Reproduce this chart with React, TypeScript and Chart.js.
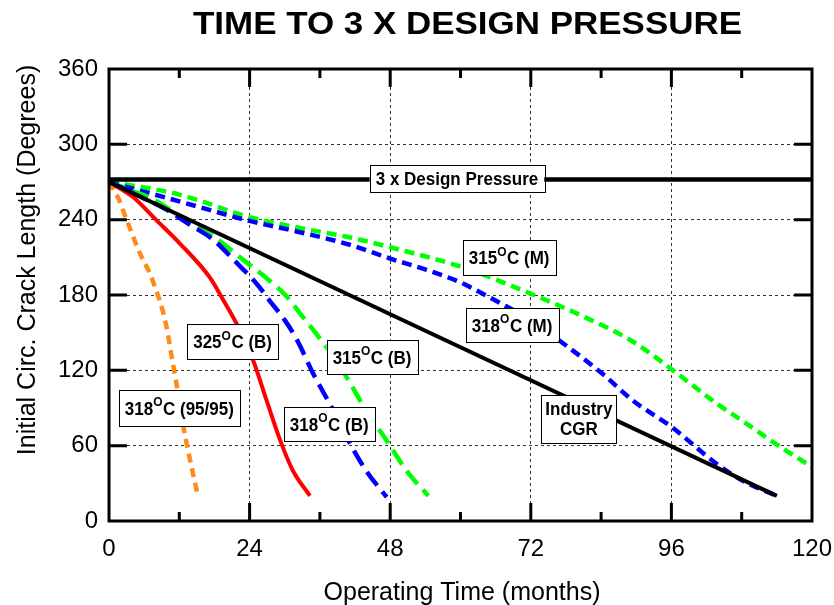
import React, { useEffect, useRef } from "react";
import { Chart, registerables } from "chart.js";

Chart.register(...registerables);

const FONT = '"Liberation Sans", Arial, Helvetica, sans-serif';

// ---- text ----
const chartTitle = "TIME TO 3 X DESIGN PRESSURE";
const xAxisTitle = "Operating Time (months)";
const yAxisTitle = "Initial Circ. Crack Length (Degrees)";

// ---- axes ----
const xMin = 0;
const xMax = 120;
const xStep = 24;
const xMinorTicks = [12, 36, 60, 84, 108];
const xMajorTicks = [24, 48, 72, 96];
const yMin = 0;
const yMax = 360;
const yStep = 60;
const yMajorTicks = [60, 120, 180, 240, 300];

// ---- series (months, degrees) ----
const designMonths = [0, 120];
const designLength = [272, 272];

const cgrMonths = [0, 114];
const cgrLength = [270, 20];

const m318_9595 = [0, 1.5, 3, 5.3, 7, 8.1, 8.7, 9.8, 10.7, 11.5, 12.7, 13.5, 15.2];
const v318_9595 = [270, 258, 240, 213, 197, 183, 175, 155, 131, 110, 75, 56, 19];

const m325B = [0, 4.1, 8, 12.1, 17.2, 19.5, 21.8, 24.6, 26.9, 29.4, 31.4, 34.3];
const v325B = [270, 258, 240, 221, 194, 176, 157, 128, 96, 62, 40, 20];

const m318B = [0, 2, 5, 9.8, 13.8, 17.8, 21.5, 25.2, 27.5, 30, 32, 34.9, 38.3, 41.1, 43.9, 47.4];
const v318B = [270, 266, 259, 248, 236, 224, 207, 189, 175, 160, 145, 117, 88, 62, 40, 19];

const m315B = [0, 4, 8, 13.8, 18, 22.9, 27, 30.3, 33, 35.4, 38, 40.5, 43.9, 47.4, 50.8, 54.5];
const v315B = [270, 263, 255, 237, 226, 208, 193, 179, 163, 149, 133, 115, 88, 64, 40, 20];

const m318M = [0, 3, 7, 15.5, 24, 32.6, 41.1, 48, 54.2, 60, 63.8, 67.8, 72, 76.8, 84.3, 89.4, 96, 103.6, 108.2, 114];
const v318M = [270, 266, 261, 250, 239, 230, 220, 209, 200, 190, 181, 171, 160, 144, 117, 96, 75, 46, 32, 20];

const m315M = [0, 3.6, 12, 24, 33, 41, 48, 60.4, 72, 80.9, 89.4, 96, 103.6, 109.3, 113.3, 120];
const v315M = [270, 267.5, 260, 242, 233, 226, 218, 202, 181, 163, 143, 121, 94, 76, 63, 43];

// ---- in-plot labels (text) ----
const labelBase = ["3 x Design Pressure", "315", "318", "Industry", "325", "315", "318", "318"];
const labelSup = ["", "O", "O", "", "O", "O", "O", "O"];
const labelTail = ["", "C (M)", "C (M)", "", "C (B)", "C (B)", "C (95/95)", "C (B)"];
const labelSecondLine = ["", "", "", "CGR", "", "", "", ""];

// label anchor positions (data coordinates: month, degrees) and box sizes
const labelAnchorMonth = [59.4, 68.3, 68.8, 80.2, 21.1, 44.9, 12.0, 37.6];
const labelAnchorValue = [272.5, 209.6, 155.9, 81, 142.6, 130.4, 89.8, 77];
const labelBoxHeight = [27, 35, 34, 48, 35, 34, 36, 34];

const pts = (xs: number[], ys: number[]) => xs.map((x, i) => ({ x, y: ys[i] }));

const tallText = (ctx: CanvasRenderingContext2D, text: string, x: number, y: number, sy: number) => {
  ctx.save();
  ctx.translate(x, y);
  ctx.scale(1, sy);
  ctx.fillText(text, 0, 0);
  ctx.restore();
};

const overlayPlugin = {
  id: "overlay",
  afterDatasetsDraw(chart: any) {
    const { ctx, chartArea: ca, scales } = chart;
    const xs = scales.x;
    const ys = scales.y;
    ctx.save();

    // labels
    const labelFont = `bold 17px ${FONT}`;
    const supFont = `bold 12px ${FONT}`;
    const SY = 1.12;
    for (let i = 0; i < labelBase.length; i++) {
      const cx = xs.getPixelForValue(labelAnchorMonth[i]);
      const cy = ys.getPixelForValue(labelAnchorValue[i]);
      ctx.font = labelFont;
      const wBase = ctx.measureText(labelBase[i]).width;
      const wTail = ctx.measureText(labelTail[i]).width;
      const w2 = labelSecondLine[i] ? ctx.measureText(labelSecondLine[i]).width : 0;
      ctx.font = supFont;
      const wSup = labelSup[i] ? ctx.measureText(labelSup[i]).width + 0.5 : 0;
      const textW = Math.max(wBase + wSup + wTail, w2);
      const padX = labelSecondLine[i] ? 4 : 6;
      const bw = textW + 2 * padX;
      const bh = labelBoxHeight[i];
      const bx = cx - bw / 2;
      const by = cy - bh / 2;
      ctx.fillStyle = "#ffffff";
      ctx.fillRect(bx, by, bw, bh);
      ctx.strokeStyle = "#000";
      ctx.lineWidth = 1;
      ctx.strokeRect(Math.round(bx) + 0.5, Math.round(by) + 0.5, Math.round(bw), Math.round(bh));
      ctx.fillStyle = "#000";
      ctx.textBaseline = "alphabetic";
      if (labelSecondLine[i]) {
        ctx.font = labelFont;
        ctx.textAlign = "center";
        tallText(ctx, labelBase[i], cx, cy - 4, SY);
        tallText(ctx, labelSecondLine[i], cx, cy + 16, SY);
      } else if (labelSup[i]) {
        const base = cy + 6.5;
        let x = cx - (wBase + wSup + wTail) / 2;
        ctx.textAlign = "left";
        ctx.font = labelFont;
        tallText(ctx, labelBase[i], x, base, SY);
        x += wBase;
        ctx.font = supFont;
        tallText(ctx, labelSup[i], x, base - 8.5, SY);
        x += wSup;
        ctx.font = labelFont;
        tallText(ctx, labelTail[i], x, base, SY);
      } else {
        ctx.font = labelFont;
        ctx.textAlign = "center";
        tallText(ctx, labelBase[i], cx, cy + 6.5, SY);
      }
    }

    // frame
    ctx.strokeStyle = "#000";
    ctx.lineWidth = 3;
    ctx.strokeRect(ca.left, ca.top, ca.right - ca.left, ca.bottom - ca.top);

    // inner ticks
    ctx.lineWidth = 3;
    ctx.beginPath();
    for (const v of xMajorTicks) {
      const p = xs.getPixelForValue(v);
      ctx.moveTo(p, ca.bottom); ctx.lineTo(p, ca.bottom - 18);
      ctx.moveTo(p, ca.top); ctx.lineTo(p, ca.top + 18);
    }
    for (const v of xMinorTicks) {
      const p = xs.getPixelForValue(v);
      ctx.moveTo(p, ca.bottom); ctx.lineTo(p, ca.bottom - 9);
      ctx.moveTo(p, ca.top); ctx.lineTo(p, ca.top + 9);
    }
    for (const v of yMajorTicks) {
      const p = ys.getPixelForValue(v);
      ctx.moveTo(ca.left, p); ctx.lineTo(ca.left + 18, p);
      ctx.moveTo(ca.right, p); ctx.lineTo(ca.right - 18, p);
    }
    ctx.stroke();

    // titles
    ctx.fillStyle = "#000";
    ctx.textAlign = "center";
    ctx.textBaseline = "alphabetic";
    ctx.font = `bold 31px ${FONT}`;
    const tw = ctx.measureText(chartTitle).width;
    ctx.save();
    ctx.translate(467.5, 34);
    ctx.scale(549 / tw, 1);
    ctx.fillText(chartTitle, 0, 0);
    ctx.restore();
    ctx.font = `25px ${FONT}`;
    ctx.fillText(xAxisTitle, 462, 600);
    ctx.save();
    ctx.translate(35, 260);
    ctx.rotate(-Math.PI / 2);
    ctx.fillText(yAxisTitle, 0, 0);
    ctx.restore();

    ctx.restore();
  },
};

export default function App() {
  const canvasRef = useRef<HTMLCanvasElement | null>(null);

  useEffect(() => {
    const canvas = canvasRef.current;
    if (!canvas) return;
    const line = (data: any, color: string, dash: number[], width = 4.5) => ({
      data,
      borderColor: color,
      backgroundColor: color,
      borderWidth: width,
      borderDash: dash,
      showLine: true,
      pointRadius: 0,
      pointHoverRadius: 0,
      fill: false,
      cubicInterpolationMode: "monotone" as const,
    });
    const chart = new Chart(canvas, {
      type: "scatter",
      data: {
        datasets: [
          line(pts(designMonths, designLength), "#000000", [], 4.5),
          line(pts(cgrMonths, cgrLength), "#000000", [], 4),
          line(pts(m325B, v325B), "#ff0000", [], 4),
          line(pts(m318B, v318B), "#0000ff", [17, 8], 4.5),
          line(pts(m315B, v315B), "#00ff00", [17, 8], 4.5),
          line(pts(m318M, v318M), "#0000ff", [10, 6], 4.5),
          line(pts(m315M, v315M), "#00ff00", [10, 6], 4.5),
          line(pts(m318_9595, v318_9595), "#ff8c1a", [9, 6], 4.5),
        ],
      },
      options: {
        responsive: false,
        animation: false,
        events: [],
        layout: { padding: { top: 69, right: 22, bottom: 0, left: 0 } },
        plugins: {
          legend: { display: false },
          tooltip: { enabled: false },
          title: { display: false },
        },
        scales: {
          x: {
            type: "linear",
            min: xMin,
            max: xMax,
            afterFit: (s: any) => {
              s.height = 84;
              s.paddingLeft = 0;
              s.paddingRight = 0;
            },
            ticks: {
              stepSize: xStep,
              color: "#000",
              font: { family: FONT, size: 24 },
              padding: 14,
              maxRotation: 0,
            },
            grid: { color: "#333", lineWidth: 1, drawTicks: false },
            border: { display: false, dash: [3, 3] },
          },
          y: {
            type: "linear",
            min: yMin,
            max: yMax,
            afterFit: (s: any) => {
              s.width = 109;
              s.paddingTop = 0;
              s.paddingBottom = 0;
            },
            ticks: {
              stepSize: yStep,
              color: "#000",
              font: { family: FONT, size: 24 },
              padding: 11,
            },
            grid: { color: "#333", lineWidth: 1, drawTicks: false },
            border: { display: false, dash: [3, 3] },
          },
        },
      },
      plugins: [overlayPlugin],
    });
    return () => chart.destroy();
  }, []);

  return (
    <div style={{ position: "absolute", left: 0, top: 0, width: 834, height: 605, background: "#fff" }}>
      <canvas ref={canvasRef} width={834} height={605} style={{ width: 834, height: 605, display: "block" }} />
    </div>
  );
}
